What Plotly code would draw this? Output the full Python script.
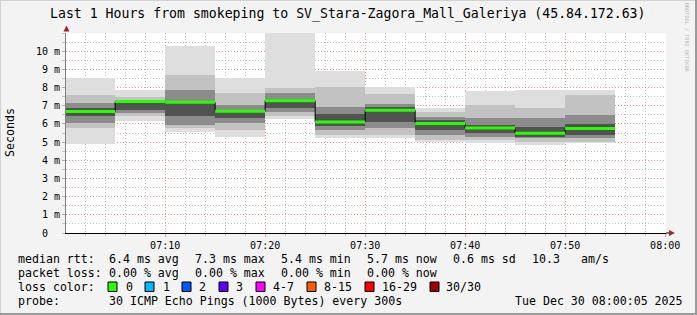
import plotly.graph_objects as go
import pandas as pd

# ---------------- data ----------------
seg_start = ["07:00", "07:05", "07:10", "07:15", "07:20", "07:25",
             "07:30", "07:35", "07:40", "07:45", "07:50"]
median_ms = [6.68, 7.23, 7.19, 6.70, 7.28, 6.10, 6.75, 6.02, 5.77, 5.48, 5.75]
outer_lo = [4.91, 6.17, 5.58, 5.29, 6.28, 5.22, 5.20, 5.02, 4.93, 4.84, 4.93]
outer_hi = [8.54, 7.87, 10.27, 8.54, 11.30, 8.90, 8.03, 6.85, 7.79, 7.85, 7.85]
mid_lo = [5.77, 6.41, 5.77, 5.67, 6.41, 5.40, 5.38, 5.11, 5.11, 5.02, 5.02]
mid_hi = [7.59, 7.50, 8.69, 7.68, 7.96, 8.05, 7.66, 6.66, 7.03, 6.85, 7.57]
dark_lo = [6.04, 6.59, 5.95, 6.04, 6.68, 5.67, 5.75, 5.38, 5.29, 5.20, 5.20]
dark_hi = [7.13, 7.32, 7.87, 7.04, 7.68, 6.95, 7.12, 6.39, 6.30, 6.30, 6.48]
core_lo = [6.41, 6.77, 6.41, 6.31, 6.86, 5.90, 6.11, 5.66, 5.48, 5.29, 5.38]
core_hi = [6.87, 7.13, 7.13, 6.77, 7.32, 6.55, 6.93, 6.20, 5.93, 5.84, 6.02]

y_tickvals = [0, 1, 2, 3, 4, 5, 6, 7, 8, 9, 10]
y_ticktext = ["0\u00a0\u00a0", "1 m", "2 m", "3 m", "4 m", "5 m",
              "6 m", "7 m", "8 m", "9 m", "10 m"]

loss_labels = ["0", "1", "2", "3", "4-7", "8-15", "16-29", "30/30"]
loss_colors = ["#26ff00", "#00b8ff", "#0059ff", "#5e00ff",
               "#ff00ff", "#ff5e00", "#ff0000", "#a10000"]

title_text = "Last 1 Hours from smokeping to SV_Stara-Zagora_Mall_Galeriya (45.84.172.63)"
rtt_items = ["median rtt:", "6.4 ms avg", "7.3 ms max", "5.4 ms min",
             "5.7 ms now", "0.6 ms sd", "10.3", "am/s"]
loss_items = ["packet loss:", "0.00 % avg", "0.00 % max", "0.00 % min", "0.00 % now"]
probe_items = ["probe:", "30 ICMP Echo Pings (1000 Bytes) every 300s",
               "Tue Dec 30 08:00:05 2025"]

# ---------------- layout geometry ----------------
W, H = 697, 315
L, R, T, B = 66, 31, 33, 82
PW, PH = W - L - R, H - T - B
MONO = "DejaVu Sans Mono"


def px(xp):
    return (xp - L) / PW


def py(yp):
    return (H - B - yp) / PH


day = "2025-12-30 "
starts = pd.to_datetime([day + s for s in seg_start])
step = pd.Timedelta(minutes=5)
centers = starts + step / 2
width_ms = step.total_seconds() * 1000

fig = go.Figure()

bands = [
    (outer_lo, outer_hi, "#dedede"),
    (mid_lo, mid_hi, "#c2c2c2"),
    (dark_lo, dark_hi, "#8c8c8c"),
    (core_lo, core_hi, "#525252"),
]
for lo, hi, col in bands:
    fig.add_trace(go.Bar(
        x=centers, base=lo, y=[h - l for l, h in zip(lo, hi)],
        width=width_ms, marker=dict(color=col, line=dict(width=0)),
        hoverinfo="skip", showlegend=False))

# black step line
step_x = list(starts) + [starts[-1] + step]
step_y = list(median_ms) + [median_ms[-1]]
fig.add_trace(go.Scatter(x=step_x, y=step_y, mode="lines",
                         line=dict(color="#000000", width=1, shape="hv"),
                         hoverinfo="skip", showlegend=False))

# green median segments
gx, gy = [], []
for s, m in zip(starts, median_ms):
    gx += [s, s + step, None]
    gy += [m, m, None]
fig.add_trace(go.Scatter(x=gx, y=gy, mode="lines",
                         line=dict(color=loss_colors[0], width=3),
                         hoverinfo="skip", showlegend=False))

fig.update_layout(
    width=W, height=H,
    margin=dict(l=L, r=R, t=T, b=B, pad=0),
    paper_bgcolor="#f3f3f3", plot_bgcolor="#ffffff",
    barmode="overlay", bargap=0,
    showlegend=False,
    font=dict(family=MONO, size=10, color="#000000"),
)

MAJ = "#dc9c9c"
MIN = "#c4c4c4"
fig.update_xaxes(
    type="date",
    range=[day + "07:00:05", day + "08:00:05"],
    tick0=day + "07:00", dtick=600000, tickformat="%H:%M",
    showgrid=True, gridcolor=MAJ, griddash="1px,2px", gridwidth=1,
    minor=dict(tick0=day + "07:00", dtick=120000, showgrid=True, gridcolor=MIN,
               griddash="1px,2px", ticks="outside", ticklen=2, tickcolor=MIN),
    ticks="outside", ticklen=3, tickcolor=MAJ,
    showline=True, linecolor="#000000", linewidth=1,
    zeroline=False,
    tickfont=dict(family=MONO, size=10, color="#000000"),
    fixedrange=True,
)
fig.update_yaxes(
    range=[0, 11],
    tickvals=y_tickvals, ticktext=y_ticktext,
    showgrid=True, gridcolor=MAJ, griddash="1px,2px", gridwidth=1,
    minor=dict(tick0=0, dtick=0.5, showgrid=True, gridcolor=MIN,
               griddash="1px,2px", ticks="outside", ticklen=3, tickcolor=MIN),
    ticks="outside", ticklen=3, tickcolor=MAJ,
    showline=True, linecolor="#808080", linewidth=1,
    zeroline=False,
    tickfont=dict(family=MONO, size=10, color="#000000"),
    fixedrange=True,
)

ann = []


def text(x, y, s, size=11.6, xanchor="left", color="#000000", angle=0):
    ann.append(dict(xref="paper", yref="paper", x=px(x), y=py(y), text=s,
                    showarrow=False, xanchor=xanchor, yanchor="middle",
                    textangle=angle,
                    font=dict(family=MONO, size=size, color=color)))


text(347, 13.5, title_text, size=13.2, xanchor="center")
text(10, 133, "Seconds", size=11.6, xanchor="center", angle=-90)
text(687, 38, "RRDTOOL / TOBI OETIKER", size=5.2, xanchor="center",
     color="#b8b8b8", angle=90)

rtt_x = [16, 107, 193, 279, 365, 451, 530, 579]
for xx, s in zip(rtt_x, rtt_items):
    text(xx, 259, s)
loss_x = [16, 107, 193, 279, 365]
for xx, s in zip(loss_x, loss_items):
    text(xx, 273, s)
text(16, 287, "loss color:")
box_x = [108, 145, 182, 219, 256, 307, 365, 430]
lab_x = [123.5, 161, 197, 234, 271, 322, 380, 444]
shapes = []
for bx, lx, lab, col in zip(box_x, lab_x, loss_labels, loss_colors):
    shapes.append(dict(type="rect", xref="paper", yref="paper",
                       x0=px(bx), x1=px(bx + 9), y0=py(291.5), y1=py(282),
                       fillcolor=col, line=dict(color="#000000", width=1)))
    text(lx, 287, lab)
probe_x = [16, 107, 513]
for xx, s in zip(probe_x, probe_items):
    text(xx, 301, s)

# arrows on axes
arrow_col = "#a02828"
shapes.append(dict(type="path", xref="paper", yref="paper",
                   path=f"M {px(63.5)} {py(31.5)} L {px(69.5)} {py(31.5)} L {px(66.5)} {py(25.5)} Z",
                   fillcolor=arrow_col, line=dict(width=0)))
shapes.append(dict(type="line", xref="paper", yref="paper",
                   x0=1, x1=px(670), y0=0, y1=0,
                   line=dict(color="#000000", width=1)))
shapes.append(dict(type="path", xref="paper", yref="paper",
                   path=f"M {px(669)} {py(230)} L {px(669)} {py(236)} L {px(675)} {py(233)} Z",
                   fillcolor=arrow_col, line=dict(width=0)))
# frame border of the image
shapes.append(dict(type="rect", xref="paper", yref="paper",
                   x0=px(695), x1=px(697), y0=py(315), y1=py(0),
                   fillcolor="#9a9a9a", line=dict(width=0), layer="above"))
shapes.append(dict(type="rect", xref="paper", yref="paper",
                   x0=px(0), x1=px(697), y0=py(315), y1=py(313),
                   fillcolor="#9a9a9a", line=dict(width=0), layer="above"))
shapes.append(dict(type="rect", xref="paper", yref="paper",
                   x0=px(0), x1=px(695), y0=py(1), y1=py(0),
                   fillcolor="#d2d2d2", line=dict(width=0), layer="above"))
shapes.append(dict(type="rect", xref="paper", yref="paper",
                   x0=px(0), x1=px(1), y0=py(313), y1=py(0),
                   fillcolor="#d2d2d2", line=dict(width=0), layer="above"))

fig.update_layout(annotations=ann, shapes=shapes)
fig.write_html("out.html", config={"displayModeBar": False})
